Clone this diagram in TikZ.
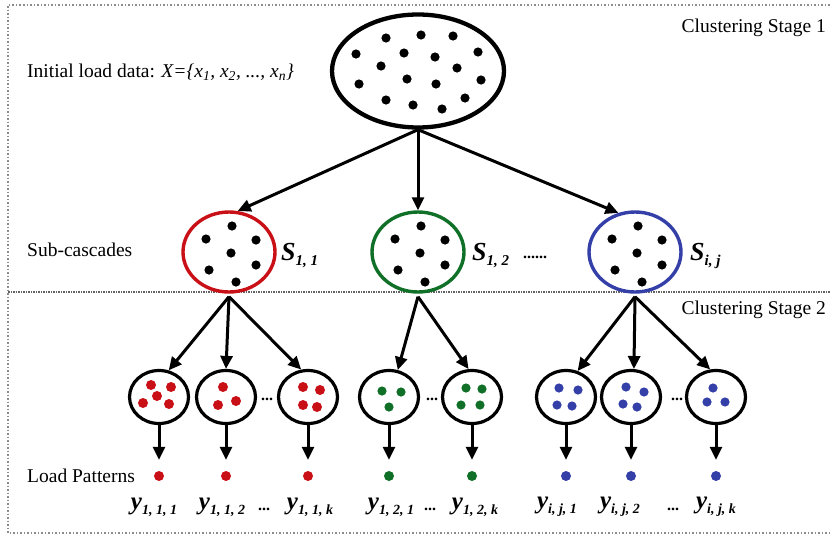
\documentclass[tikz,border=0pt]{standalone}
\usepackage{fontspec}
\setmainfont{Liberation Serif}
\usetikzlibrary{arrows.meta,shapes.geometric}
\definecolor{cred}{RGB}{200,16,22}
\definecolor{cgreen}{RGB}{16,112,40}
\definecolor{cblue}{RGB}{52,64,168}
\definecolor{framec}{RGB}{140,140,140}
\begin{document}
\begin{tikzpicture}[x=1pt,y=-1pt,
  arr/.style={line width=3pt,-{Triangle[length=13pt,width=12pt]}},
  big/.style={ellipse,draw,line width=4.3pt,minimum width=172pt,minimum height=113pt,inner sep=0pt},
  sub/.style={ellipse,draw=#1,line width=3.4pt,minimum width=92pt,minimum height=80pt,inner sep=0pt},
  leaf/.style={ellipse,draw,line width=3.2pt,minimum width=59pt,minimum height=53pt,inner sep=0pt},
  pt/.style={circle,fill=#1,minimum size=10pt,inner sep=0pt},
  lbl/.style={font=\fontsize{19.5}{22}\selectfont,inner sep=0pt},
  slab/.style={font=\bfseries\itshape\fontsize{26}{26}\selectfont,inner sep=0pt,anchor=west},
  ylab/.style={font=\bfseries\itshape\fontsize{25}{25}\selectfont,inner sep=0pt},
  dts/.style={font=\bfseries\fontsize{16}{16}\selectfont,inner sep=0pt,anchor=base},
]
\useasboundingbox (0,0) rectangle (830,536);
% frame
\draw[framec,dotted,line width=1.5pt] (840,5) -- (8,5) -- (8,533) -- (840,533);
\draw[framec!70!black,densely dotted,line width=1.5pt] (8,292) -- (830,292);

% texts
\node[lbl,anchor=east] (st1) at (826,28) {Clustering Stage 1};
\node[lbl,anchor=west] (init) at (27,72) {Initial load data: \textit{X=\{x\textsubscript{1}, x\textsubscript{2}, ..., x\textsubscript{n}\}}};
\node[lbl,anchor=west] (subc) at (27,250) {Sub-cascades};
\node[lbl,anchor=east] (st2) at (826,310) {Clustering Stage 2};
\node[lbl,anchor=west] (lp) at (27,476) {Load Patterns};

% big ellipse
\node[big] (X) at (418,71) {};
\foreach \x/\y in {386/38,421/35,453/36,356/54,404/53,435/57,478/52,381/66,457/68,359/84,407/79,436/84,481/80,386/100,413/105,442/109,465/98}
  \fill (\x,\y) circle (4.6pt);

% sub-cascades
\node[sub=cred] (S1) at (229,252) {};
\node[sub=cgreen] (S2) at (418,252) {};
\node[sub=cblue] (S3) at (635,252) {};
\foreach \cx in {229,418,635}
  \foreach \dx/\dy in {3/-26,-23/-13,27/-12,2/1,-20/18,27/13,7/30}
    \fill (\cx+\dx,252+\dy) circle (4.6pt);

\node[slab] (s11) at (281,256) {S\raisebox{-5pt}{\fontsize{15}{15}\selectfont 1, 1}};
\node[slab] (s12) at (472,256) {S\raisebox{-5pt}{\fontsize{15}{15}\selectfont 1, 2}};
\node[dts] (d0) at (535,258) {......};
\node[slab] (sij) at (690,256) {S\raisebox{-5pt}{\fontsize{15}{15}\selectfont i, j}};

\draw[arr] (X.south) -- (S1.78);
\draw[arr] (X.south) -- (S2.north);
\draw[arr] (X.south) -- (S3.113);

% leaves
\node[leaf] (L1) at (159,397) {};
\node[leaf] (L2) at (226,397) {};
\node[leaf] (L3) at (308,397) {};
\node[leaf] (L4) at (389,397) {};
\node[leaf] (L5) at (472,397) {};
\node[leaf] (L6) at (566,397) {};
\node[leaf] (L7) at (631,397) {};
\node[leaf] (L8) at (716,397) {};
\node[dts] (d1) at (267,400) {...};
\node[dts] (d2) at (432,400) {...};
\node[dts] (d3) at (677,400) {...};

\foreach \dx/\dy in {-8/-12,12/-10,-2/-1,-16/6,10/7} \fill[cred] (159+\dx,397+\dy) circle (5pt);
\foreach \dx/\dy in {-3/-10,-8/8,10/4} \fill[cred] (226+\dx,397+\dy) circle (5pt);
\foreach \dx/\dy in {-5/-10,12/-7,-5/8,9/10} \fill[cred] (308+\dx,397+\dy) circle (5pt);
\foreach \dx/\dy in {-7/-6,12/-5,0/10} \fill[cgreen] (389+\dx,397+\dy) circle (4.6pt);
\foreach \dx/\dy in {-6/-9,10/-8,-11/8,8/8} \fill[cgreen] (472+\dx,397+\dy) circle (4.6pt);
\foreach \dx/\dy in {-7/-9,12/-7,-9/8,6/9} \fill[cblue] (566+\dx,397+\dy) circle (4.6pt);
\foreach \dx/\dy in {-5/-10,13/-5,-8/7,6/10} \fill[cblue] (631+\dx,397+\dy) circle (4.6pt);
\foreach \dx/\dy in {-3/-9,-9/5,9/5} \fill[cblue] (716+\dx,397+\dy) circle (4.6pt);

\coordinate (o1) at ([yshift=-3pt]S1.south);
\coordinate (o2) at ([yshift=-3pt]S2.south);
\coordinate (o3) at ([yshift=-3pt]S3.south);
\draw[arr] (o1) -- (L1.70);
\draw[arr] (o1) -- (L2.north);
\draw[arr] (o1) -- (L3.104);
\draw[arr] (o2) -- (L4.72);
\draw[arr] (o2) -- (L5.97);
\draw[arr] (o3) -- (L6.66);
\draw[arr] (o3) -- (L7.84);
\draw[arr] (o3) -- (L8.102);

% load patterns
\node[pt=cred] (P1) at (159,476) {};
\node[pt=cred] (P2) at (226,476) {};
\node[pt=cred] (P3) at (308,476) {};
\node[pt=cgreen] (P4) at (389,476) {};
\node[pt=cgreen] (P5) at (472,476) {};
\node[pt=cblue] (P6) at (566,476) {};
\node[pt=cblue] (P7) at (631,476) {};
\node[pt=cblue] (P8) at (716,476) {};
\foreach \i in {1,...,8} \draw[arr,shorten >=11pt] (L\i) -- (P\i);

% y labels
\newcommand{\ysub}[1]{y\raisebox{-5pt}{\fontsize{14}{14}\selectfont #1}}
\node[ylab] (y1) at (154,507) {\ysub{1, 1, 1}};
\node[ylab] (y2) at (222,507) {\ysub{1, 1, 2}};
\node[dts] (e1) at (264,510) {...};
\node[ylab] (y3) at (310,507) {\ysub{1, 1, k}};
\node[ylab] (y4) at (391,507) {\ysub{1, 2, 1}};
\node[dts] (e2) at (430,510) {...};
\node[ylab] (y5) at (475,507) {\ysub{1, 2, k}};
\node[ylab] (y6) at (557,507) {\ysub{i, j, 1}};
\node[ylab] (y7) at (620,507) {\ysub{i, j, 2}};
\node[dts] (e3) at (673,510) {...};
\node[ylab] (y8) at (716,507) {\ysub{i, j, k}};
\end{tikzpicture}
\end{document}
